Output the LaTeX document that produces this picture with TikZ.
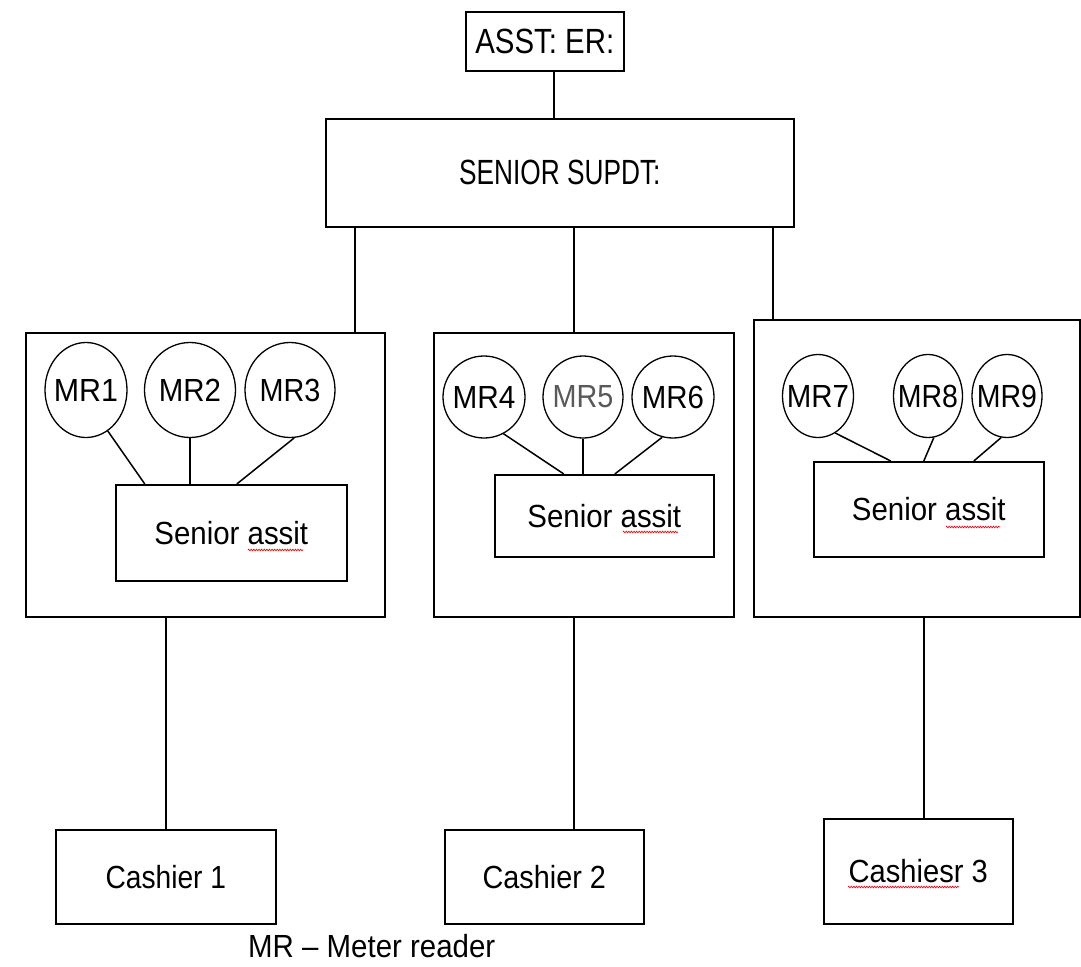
\documentclass[tikz,border=0pt]{standalone}
\usepackage{fontspec}
\setmainfont{Liberation Sans}
\usepackage{graphicx}
\usetikzlibrary{shapes.geometric,decorations.pathmorphing}
\newcommand{\sx}[2]{\scalebox{#1}[1]{#2}}
\begin{document}
\begin{tikzpicture}[x=1pt,y=-1pt,
  rbox/.style={draw, rectangle, line width=1.6pt, inner sep=0pt, anchor=north west, font={\fontsize{32}{38}\selectfont}},
  ell/.style={draw, ellipse, line width=1.3pt, inner sep=0pt, font={\fontsize{32}{38}\selectfont}},
  conn/.style={line width=1.5pt},
  wavy/.style={red, line width=0.6pt, decorate, decoration={zigzag, segment length=2.6pt, amplitude=0.9pt}}]
\useasboundingbox (0,0) rectangle (1081,966);
\fill[white] (0,0) rectangle (1081,966);

% top boxes
\node[rbox, minimum width=158pt, minimum height=59pt, font={\fontsize{35}{40}\selectfont}] (asst) at (465,11) {\sx{0.84}{ASST: ER:}};
\node[rbox, minimum width=468pt, minimum height=108pt, font={\fontsize{35}{40}\selectfont}] (sup) at (325,118) {\sx{0.75}{SENIOR SUPDT:}};

% group boxes
\node[rbox, minimum width=359pt, minimum height=284pt] (b1) at (25,332) {};
\node[rbox, minimum width=300pt, minimum height=284pt] (b2) at (433,332) {};
\node[rbox, minimum width=326pt, minimum height=297pt] (b3) at (753,319) {};

% senior assistants
\node[rbox, minimum width=231pt, minimum height=96pt] (sa1) at (115,484) {\sx{0.92}{Senior assit}};
\node[rbox, minimum width=219pt, minimum height=82pt] (sa2) at (494,474) {\sx{0.92}{Senior assit}};
\node[rbox, minimum width=230pt, minimum height=95pt] (sa3) at (813,461) {\sx{0.92}{Senior assit}};

% meter readers
\node[ell, minimum width=82pt, minimum height=95pt] (mr1) at (86,390) {\makebox[0pt]{\sx{0.95}{MR1}}};
\node[ell, minimum width=91pt, minimum height=95pt] (mr2) at (190,390) {\makebox[0pt]{\sx{0.92}{MR2}}};
\node[ell, minimum width=90pt, minimum height=95pt] (mr3) at (290,390) {\makebox[0pt]{\sx{0.9}{MR3}}};
\node[ell, minimum width=82pt, minimum height=82pt] (mr4) at (484,397) {\makebox[0pt]{\sx{0.93}{MR4}}};
\node[ell, minimum width=80pt, minimum height=82pt, text=black!65] (mr5) at (583,397) {\makebox[0pt]{\sx{0.9}{MR5}}};
\node[ell, minimum width=82pt, minimum height=82pt] (mr6) at (673,397) {\makebox[0pt]{\sx{0.92}{MR6}}};
\node[ell, minimum width=71pt, minimum height=83pt] (mr7) at (818,396) {\makebox[0pt]{\sx{0.92}{MR7}}};
\node[ell, minimum width=69pt, minimum height=83pt] (mr8) at (928,396) {\makebox[0pt]{\sx{0.89}{MR8}}};
\node[ell, minimum width=70pt, minimum height=83pt] (mr9) at (1007,396) {\makebox[0pt]{\sx{0.89}{MR9}}};

% cashiers
\node[rbox, minimum width=220pt, minimum height=94pt] (cash1) at (55,829) {\sx{0.88}{Cashier 1}};
\node[rbox, minimum width=199pt, minimum height=94pt] (cash2) at (444,829) {\sx{0.9}{Cashier 2}};
\node[rbox, minimum width=189pt, minimum height=105pt] (cash3) at (823,818) {\sx{0.91}{Cashiesr 3}};

% legend
\node[anchor=base west, inner sep=0pt, font={\fontsize{32}{38}\selectfont}] (legend) at (248,957) {\sx{0.92}{MR – Meter reader}};

% connectors: top
\coordinate (a0) at ([xshift=9pt]asst.south);
\draw[conn] (a0) -- (a0 |- sup.north);
\coordinate (t1) at ([xshift=-205pt]sup.south);
\coordinate (t2) at ([xshift=14pt]sup.south);
\coordinate (t3) at ([xshift=213pt]sup.south);
\draw[conn] (t1) -- (t1 |- b1.north);
\draw[conn] (t2) -- (t2 |- b2.north);
\draw[conn] (t3) -- (t3 |- b3.north);

% connectors: meter readers to senior assistants
\draw[conn] (mr1.-62) -- ([xshift=-86.5pt]sa1.north);
\draw[conn] (mr2.south) -- (mr2.south |- sa1.north);
\draw[conn] (mr3.-85) -- ([xshift=5.5pt]sa1.north);
\draw[conn] (mr4.-62) -- ([xshift=-40.5pt]sa2.north);
\draw[conn] (mr5.south) -- (mr5.south |- sa2.north);
\draw[conn] (mr6.-105) -- ([xshift=10.5pt]sa2.north);
\draw[conn] (mr7.-65) -- ([xshift=-38pt]sa3.north);
\draw[conn] (mr8.-82) -- ([xshift=-5pt]sa3.north);
\draw[conn] (mr9.-98) -- ([xshift=45pt]sa3.north);

% connectors: groups to cashiers
\coordinate (d1) at ([xshift=-39.5pt]b1.south);
\coordinate (d2) at ([xshift=-10pt]b2.south);
\coordinate (d3) at ([xshift=7pt]b3.south);
\draw[conn] (d1) -- (d1 |- cash1.north);
\draw[conn] (d2) -- (d2 |- cash2.north);
\draw[conn] (d3) -- (d3 |- cash3.north);

% spell-check underlines
\draw[wavy] (248,550) -- (303,550);
\draw[wavy] (623,532) -- (678,532);
\draw[wavy] (946,527) -- (1000,527);
\draw[wavy] (848,887) -- (959,887);
\end{tikzpicture}
\end{document}
